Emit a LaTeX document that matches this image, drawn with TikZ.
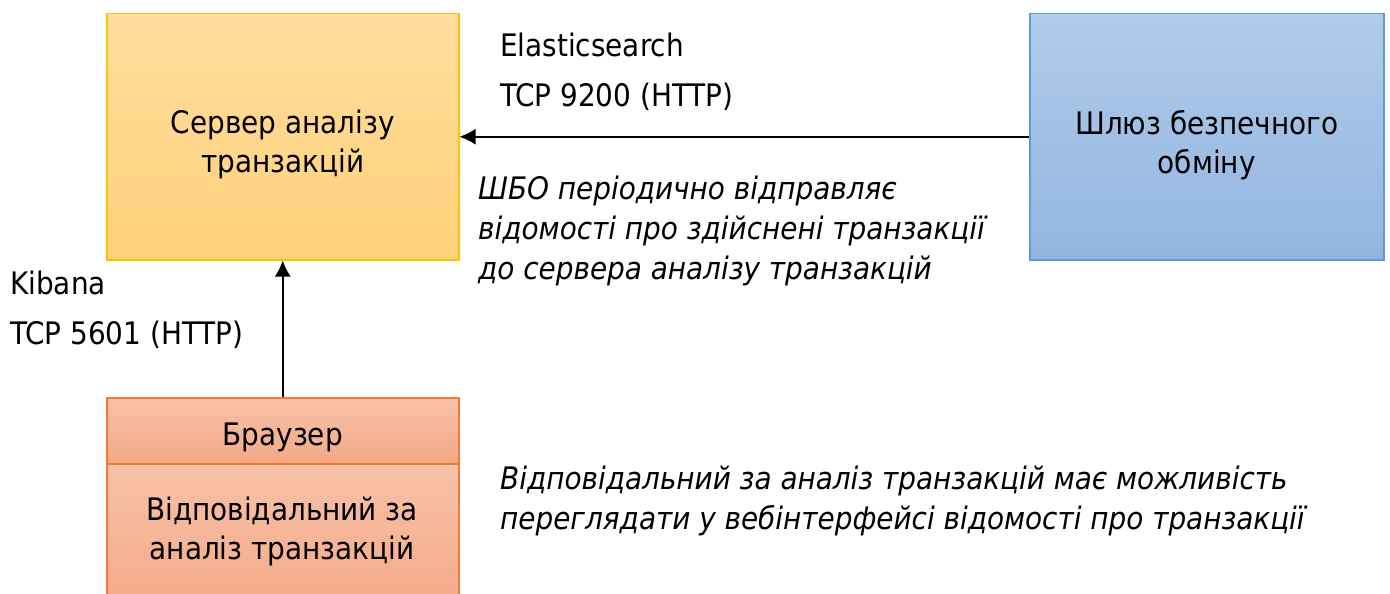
\documentclass[tikz,border=0pt]{standalone}
\usepackage{fontspec}
\setmainfont{DejaVu Sans Condensed}
\usetikzlibrary{arrows.meta}
\definecolor{srvtop}{HTML}{FFDD9E}
\definecolor{srvbot}{HTML}{FFD27A}
\definecolor{srvline}{HTML}{FFC000}
\definecolor{gwtop}{HTML}{B1CBE9}
\definecolor{gwbot}{HTML}{92B5E1}
\definecolor{gwline}{HTML}{5B9BD5}
\definecolor{brtop}{HTML}{F7C2A9}
\definecolor{brbot}{HTML}{F4A886}
\definecolor{brline}{HTML}{ED7D31}
\tikzset{
  box/.style={draw, line width=1.5pt, anchor=north west, inner sep=0pt},
  boxtext/.style={inner sep=0pt, align=center, font=\fontsize{31}{39}\selectfont},
  lbl/.style={anchor=north west, inner sep=0pt, align=left, font=\fontsize{31}{50}\selectfont},
  note/.style={anchor=north west, inner sep=0pt, align=left, font=\fontsize{31}{40}\selectfont\itshape},
  conn/.style={line width=1.6pt, -{Latex[length=16pt,width=16pt]}}
}
\begin{document}
\begin{tikzpicture}[x=1pt,y=-1pt]
\useasboundingbox[fill=white] (0,0) rectangle (1390,594);
\node[box, draw=srvline, top color=srvtop, bottom color=srvbot,
  minimum width=352pt, minimum height=246pt] (srv) at (106,13) {};
\node[boxtext, yshift=-8pt] (srvt) at (srv.center) {Сервер аналізу\\транзакцій};
\node[box, draw=gwline, top color=gwtop, bottom color=gwbot,
  minimum width=354pt, minimum height=246pt] (gw) at (1029,13) {};
\node[boxtext, yshift=-8pt] (gwt) at (gw.center) {Шлюз безпечного\\обміну};
\node[box, draw=brline, top color=brtop, bottom color=brbot,
  minimum width=352pt, minimum height=66pt] (br) at (106,397) {};
\node[boxtext, yshift=-7pt] (brt) at (br.center) {Браузер};
\node[box, draw=brline, top color=brtop, bottom color=brbot,
  minimum width=352pt, minimum height=150pt] (resp) at (106,463) {};
\node[boxtext] (respt) at (282,531) {Відповідальний за\\аналіз транзакцій};
\draw[conn] (gw.west) -- (srv.east);
\draw[conn] (br.north) -- (srv.south);
\node[lbl] (es) at (500,33) {Elasticsearch\\TCP 9200 (HTTP)};
\node[lbl] (kb) at (10,271) {Kibana\\TCP 5601 (HTTP)};
\node[note] (n1) at (478,176) {ШБО періодично відправляє\\відомості про здійснені транзакції\\до сервера аналізу транзакцій};
\node[note] (n2) at (500,466) {Відповідальний за аналіз транзакцій має можливість\\переглядати у вебінтерфейсі відомості про транзакції};
\end{tikzpicture}
\end{document}
